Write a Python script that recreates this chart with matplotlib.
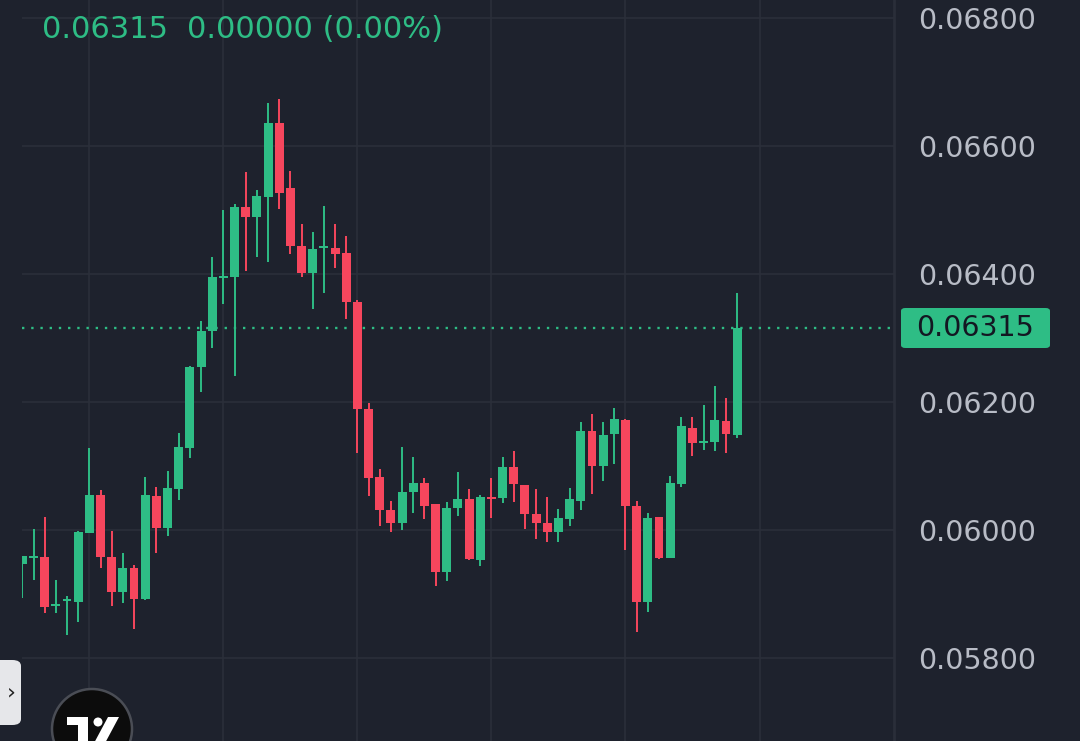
import matplotlib
matplotlib.use("Agg")
import matplotlib.pyplot as plt
import numpy as np
from matplotlib.patches import FancyBboxPatch, Circle, Rectangle, Polygon

# OHLC values (oldest -> newest)
opens = [0.05947, 0.05957, 0.05958, 0.05882, 0.05890, 0.05888, 0.05995, 0.06055, 0.05958, 0.05903,
         0.05941, 0.05892, 0.06053, 0.06003, 0.06064, 0.06128, 0.06255, 0.06311, 0.06395, 0.06395,
         0.06504, 0.06489, 0.06521, 0.06636, 0.06534, 0.06443, 0.06402, 0.06441, 0.06441, 0.06433,
         0.06357, 0.06189, 0.06083, 0.06032, 0.06011, 0.06059, 0.06073, 0.06040, 0.05934, 0.06035,
         0.06048, 0.05953, 0.06050, 0.06050, 0.06099, 0.06070, 0.06025, 0.06011, 0.05997, 0.06017,
         0.06046, 0.06154, 0.06100, 0.06150, 0.06172, 0.06038, 0.05888, 0.06020, 0.05957, 0.06072,
         0.06160, 0.06137, 0.06138, 0.06170, 0.06148]
highs = [0.05960, 0.06002, 0.06020, 0.05922, 0.05897, 0.05998, 0.06128, 0.06063, 0.05998, 0.05964,
         0.05945, 0.06083, 0.06067, 0.06092, 0.06152, 0.06256, 0.06327, 0.06427, 0.06500, 0.06509,
         0.06560, 0.06531, 0.06667, 0.06673, 0.06561, 0.06478, 0.06465, 0.06506, 0.06478, 0.06459,
         0.06360, 0.06199, 0.06095, 0.06045, 0.06130, 0.06114, 0.06081, 0.06041, 0.06043, 0.06091,
         0.06064, 0.06055, 0.06081, 0.06114, 0.06124, 0.06071, 0.06064, 0.06052, 0.06033, 0.06065,
         0.06168, 0.06182, 0.06169, 0.06190, 0.06173, 0.06045, 0.06027, 0.06021, 0.06084, 0.06177,
         0.06176, 0.06195, 0.06225, 0.06207, 0.06370]
lows = [0.05894, 0.05922, 0.05870, 0.05870, 0.05836, 0.05856, 0.05995, 0.05941, 0.05881, 0.05886,
        0.05845, 0.05891, 0.05964, 0.05991, 0.06047, 0.06113, 0.06216, 0.06284, 0.06353, 0.06240,
        0.06405, 0.06427, 0.06419, 0.06501, 0.06432, 0.06396, 0.06345, 0.06370, 0.06409, 0.06329,
        0.06120, 0.06053, 0.06006, 0.05997, 0.06000, 0.06026, 0.06017, 0.05913, 0.05920, 0.06022,
        0.05953, 0.05944, 0.06018, 0.06042, 0.06043, 0.06001, 0.05986, 0.05982, 0.05982, 0.06007,
        0.06031, 0.06056, 0.06077, 0.06103, 0.05968, 0.05841, 0.05872, 0.05954, 0.05956, 0.06067,
        0.06116, 0.06125, 0.06124, 0.06121, 0.06143]
closes = [0.05959, 0.05958, 0.05880, 0.05883, 0.05891, 0.05997, 0.06055, 0.05958, 0.05903, 0.05941,
          0.05892, 0.06055, 0.06003, 0.06066, 0.06130, 0.06255, 0.06311, 0.06395, 0.06396, 0.06505,
          0.06489, 0.06522, 0.06636, 0.06527, 0.06443, 0.06402, 0.06439, 0.06442, 0.06432, 0.06357,
          0.06189, 0.06081, 0.06032, 0.06011, 0.06059, 0.06073, 0.06038, 0.05934, 0.06034, 0.06048,
          0.05954, 0.06052, 0.06049, 0.06099, 0.06072, 0.06025, 0.06011, 0.05997, 0.06018, 0.06048,
          0.06154, 0.06100, 0.06148, 0.06173, 0.06038, 0.05888, 0.06018, 0.05957, 0.06074, 0.06163,
          0.06136, 0.06138, 0.06172, 0.06150, 0.06315]

price_ticks = [0.058, 0.060, 0.062, 0.064, 0.066, 0.068]
last_price = 0.06315
change_text = "0.00000 (0.00%)"

BG = '#1e222d'
GRID = '#2b2f3a'
UP = '#2ebd85'
DOWN = '#f6465d'
LABEL = '#b8bcc6'

W, H = 1080, 741
fig = plt.figure(figsize=(W / 100, H / 100), dpi=100, facecolor=BG)
ax = fig.add_axes([22 / W, 0, (895 - 22) / W, 1])
ax.set_facecolor(BG)

o = np.array(opens); h = np.array(highs); l = np.array(lows); c = np.array(closes)
x = np.arange(len(o))
colors = np.where(c >= o, UP, DOWN)

# grid
for gx in range(6, 80, 12):
    ax.axvline(gx, color=GRID, lw=1.2, zorder=0)
for p in price_ticks:
    ax.axhline(p, color=GRID, lw=1.2, zorder=0)

# wicks + bodies
ax.vlines(x, l, h, colors=colors, linewidth=1.4, zorder=2)
body = np.maximum(np.abs(c - o), 0.00003)
mid = (o + c) / 2
ax.bar(x, body, bottom=mid - body / 2, width=0.8, color=colors, linewidth=0, zorder=3)

# last price dotted line
ax.axhline(last_price, color=UP, lw=1.7, linestyle=(0, (1, 2.9)), zorder=1)

ax.set_xlim(-0.03, 78.13)
ax.set_ylim(0.056703, 0.068281)
for s in ax.spines.values():
    s.set_visible(False)
ax.set_xticks([])
ax.yaxis.tick_right()
ax.set_yticks(price_ticks)
ax.set_yticklabels([f"{p:.5f}" for p in price_ticks])
ax.tick_params(axis='y', length=0, pad=17, labelsize=20.5, labelcolor=LABEL)

# price-scale border
fig.add_artist(plt.Line2D([894.5 / W, 894.5 / W], [0, 1], color=GRID, lw=1.2))

# last price label
yl = 1 - 328 / H
box = FancyBboxPatch((901 / W, yl - 20 / H), 149 / W, 40 / H,
                     boxstyle="round,pad=0,rounding_size=0.004",
                     transform=fig.transFigure, facecolor=UP, edgecolor='none')
fig.add_artist(box)
fig.text(975.5 / W, yl, f"{last_price:.5f}", color='#131722', fontsize=20.5,
         ha='center', va='center')

# header
fig.text(42 / W, 1 - 29 / H, f"{last_price:.5f}", color=UP, fontsize=22, va='center')
fig.text(187 / W, 1 - 29 / H, change_text, color=UP, fontsize=22, va='center')

# left collapse tab
tab = FancyBboxPatch((-12 / W, 1 - 725 / H), 33 / W, 65 / H,
                     boxstyle="round,pad=0,rounding_size=0.008",
                     transform=fig.transFigure, facecolor='#e6e7ea', edgecolor='none')
fig.add_artist(tab)
fig.text(11 / W, 1 - 692 / H, "›", color='#222222', fontsize=16, ha='center', va='center')

# logo badge
lax = fig.add_axes([0, 0, 1, 1], facecolor='none')
lax.set_xlim(0, W); lax.set_ylim(H, 0); lax.axis('off')
lax.add_patch(Circle((92, 729), 40, facecolor='#0c0c0c', edgecolor='#4a4d55', lw=1.8))
lax.add_patch(Rectangle((67, 717), 21, 8, facecolor='white'))
lax.add_patch(Rectangle((78, 717), 10, 30, facecolor='white'))
lax.add_patch(Circle((98, 722), 4.5, facecolor='white'))
lax.add_patch(Polygon([(108, 717), (119, 717), (104, 745), (93, 745)], facecolor='white'))

fig.savefig('out.png', dpi=100, facecolor=BG)
